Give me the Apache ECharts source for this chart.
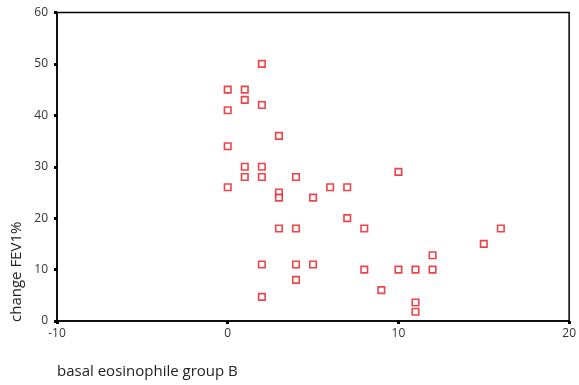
<!DOCTYPE html>
<html>
<head>
<meta charset="utf-8">
<script src="https://cdn.jsdelivr.net/npm/echarts@6/dist/echarts.min.js"></script>
<style>
	html, body { margin: 0; padding: 0; background: #fff; }
	#chart { width: 579px; height: 385px; }
</style>
</head>
<body>
<div id="chart"></div>
<script>
// basal eosinophile group B (x) vs change FEV1% (y)
var eosinophil = [2, 0, 1, 1, 2, 0, 3, 0, 1, 2, 1, 2, 4, 0, 6, 7, 3, 3, 5, 7,
	3, 4, 8, 2, 4, 5, 8, 4, 9, 2, 10, 16, 15, 12, 10, 11, 12, 11, 11];
var fev1Change = [50, 45, 45, 43, 42, 41, 36, 34, 30, 30, 28, 28, 28, 26, 26, 26, 25, 24, 24, 20,
	18, 18, 18, 11, 11, 11, 10, 8, 6, 4.7, 29, 18, 15, 12.8, 10, 10, 10, 3.6, 1.8];
var yTicks = [0, 10, 20, 30, 40, 50, 60];
var xTicks = [-10, 0, 10, 20];

var points = eosinophil.map(function(x, i) {
	return [x, fev1Change[i]];
});

var chart = echarts.init(document.getElementById('chart'));

var labelStyle = {
	color : '#333',
	fontSize : 12,
	fontFamily : 'Open Sans'
};

chart.setOption({
	animation : false,
	grid : {
		left : 57,
		right : 7,
		top : 12.5,
		bottom : 64,
		show : true,
		borderColor : '#000',
		borderWidth : 1.5
	},
	xAxis : {
		type : 'value',
		min : xTicks[0],
		max : xTicks[xTicks.length - 1],
		interval : 10,
		splitLine : { show : false },
		axisLine : { show : true, onZero : false, lineStyle : { color : '#000', width : 1.5 } },
		axisTick : { show : true, length : 3, lineStyle : { color : '#000', width : 3 } },
		axisLabel : Object.assign({ margin : 7 }, labelStyle)
	},
	yAxis : {
		type : 'value',
		min : yTicks[0],
		max : yTicks[yTicks.length - 1],
		interval : 10,
		splitLine : { show : false },
		axisLine : { show : true, onZero : false, lineStyle : { color : '#000', width : 1.5 } },
		axisTick : { show : true, length : 3, lineStyle : { color : '#000', width : 3 } },
		axisLabel : Object.assign({ margin : 9 }, labelStyle)
	},
	graphic : [ {
		type : 'text',
		left : 57,
		top : 364,
		style : {
			text : 'basal eosinophile group B',
			fill : '#222',
			font : '15px "Open Sans"'
		}
	}, {
		type : 'text',
		x : 9,
		y : 322,
		rotation : Math.PI / 2,
		style : {
			text : 'change FEV1%',
			fill : '#222',
			font : '15px "Open Sans"',
			align : 'left',
			verticalAlign : 'top'
		}
	} ],
	series : [ {
		type : 'scatter',
		data : points,
		symbol : 'rect',
		symbolSize : 6.5,
		itemStyle : {
			color : '#fff',
			borderColor : '#e8141c',
			borderWidth : 1.6
		}
	} ]
});
</script>
</body>
</html>
